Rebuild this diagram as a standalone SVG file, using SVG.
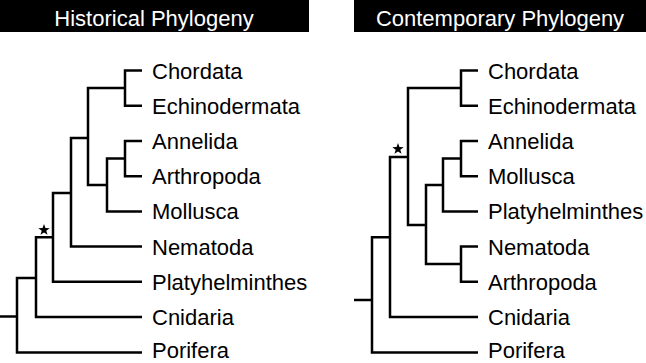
<svg xmlns="http://www.w3.org/2000/svg" xmlns:xlink="http://www.w3.org/1999/xlink" width="646" height="363" viewBox="0 0 646 363">
<style>
  .title-bar { fill: #000; }
  .title { font-family: "Liberation Sans", Arial, sans-serif; font-size: 22px; fill: #fff; text-anchor: middle; }
  .label { font-family: "Liberation Sans", Arial, sans-serif; font-size: 22px; fill: #000; }
  .branch { fill: none; stroke: #000; stroke-width: 2.5; stroke-linejoin: miter; stroke-linecap: butt; }
  .star { fill: #000; }
</style>
<defs>
  <polygon id="star" points="0,-6 1.41,-1.94 5.71,-1.85 2.28,0.74 3.53,4.85 0,2.4 -3.53,4.85 -2.28,0.74 -5.71,-1.85 -1.41,-1.94"/>
</defs>
<rect width="646" height="363" fill="#fff"/>

<!-- Left panel -->
<g id="title-historical">
  <rect class="title-bar" x="0" y="0" width="309" height="32"/>
  <text class="title" x="154" y="26">Historical Phylogeny</text>
</g>
<g id="connectors-historical">
  <path class="branch" d="M142,70.5 H125 V105.7 H142"/>
  <path class="branch" d="M125,88 H88 V185 H107"/>
  <path class="branch" d="M142,141 H125 V176.2 H142"/>
  <path class="branch" d="M125,158.6 H107 V211.4 H142"/>
  <path class="branch" d="M88,138 H71 V246.6 H142"/>
  <path class="branch" d="M71,193 H53 V281.8 H142"/>
  <path class="branch" d="M53,237.3 H36 V317 H142"/>
  <path class="branch" d="M36,278 H17 V352.5 H142"/>
  <path class="branch" d="M17,316.5 H0"/>
  <use class="star" xlink:href="#star" href="#star" x="44" y="230"/>
</g>
<g id="h-chordata"><text class="label" x="152" y="78.5">Chordata</text></g>
<g id="h-echinodermata"><text class="label" x="152" y="113.7">Echinodermata</text></g>
<g id="h-annelida"><text class="label" x="152" y="149">Annelida</text></g>
<g id="h-arthropoda"><text class="label" x="152" y="184.2">Arthropoda</text></g>
<g id="h-mollusca"><text class="label" x="152" y="219.4">Mollusca</text></g>
<g id="h-nematoda"><text class="label" x="152" y="254.6">Nematoda</text></g>
<g id="h-platyhelminthes"><text class="label" x="152" y="289.8">Platyhelminthes</text></g>
<g id="h-cnidaria"><text class="label" x="152" y="325">Cnidaria</text></g>
<g id="h-porifera"><text class="label" x="152" y="358">Porifera</text></g>

<!-- Right panel -->
<g id="title-contemporary">
  <rect class="title-bar" x="354" y="0" width="292" height="32"/>
  <text class="title" x="500" y="26">Contemporary Phylogeny</text>
</g>
<g id="connectors-contemporary">
  <path class="branch" d="M478,70.5 H461 V105.7 H478"/>
  <path class="branch" d="M461,88 H408 V225 H426"/>
  <path class="branch" d="M478,141 H461 V176.2 H478"/>
  <path class="branch" d="M461,158.6 H443 V211.4 H478"/>
  <path class="branch" d="M443,185 H426 V264 H461"/>
  <path class="branch" d="M478,246.6 H461 V281.8 H478"/>
  <path class="branch" d="M408,157 H390 V317 H478"/>
  <path class="branch" d="M390,237.3 H372 V352.5 H478"/>
  <path class="branch" d="M372,300 H354"/>
  <use class="star" xlink:href="#star" href="#star" x="398" y="149"/>
</g>
<g id="c-chordata"><text class="label" x="488" y="78.5">Chordata</text></g>
<g id="c-echinodermata"><text class="label" x="488" y="113.7">Echinodermata</text></g>
<g id="c-annelida"><text class="label" x="488" y="149">Annelida</text></g>
<g id="c-mollusca"><text class="label" x="488" y="184.2">Mollusca</text></g>
<g id="c-platyhelminthes"><text class="label" x="488" y="219.4">Platyhelminthes</text></g>
<g id="c-nematoda"><text class="label" x="488" y="254.6">Nematoda</text></g>
<g id="c-arthropoda"><text class="label" x="488" y="289.8">Arthropoda</text></g>
<g id="c-cnidaria"><text class="label" x="488" y="325">Cnidaria</text></g>
<g id="c-porifera"><text class="label" x="488" y="358">Porifera</text></g>
</svg>
